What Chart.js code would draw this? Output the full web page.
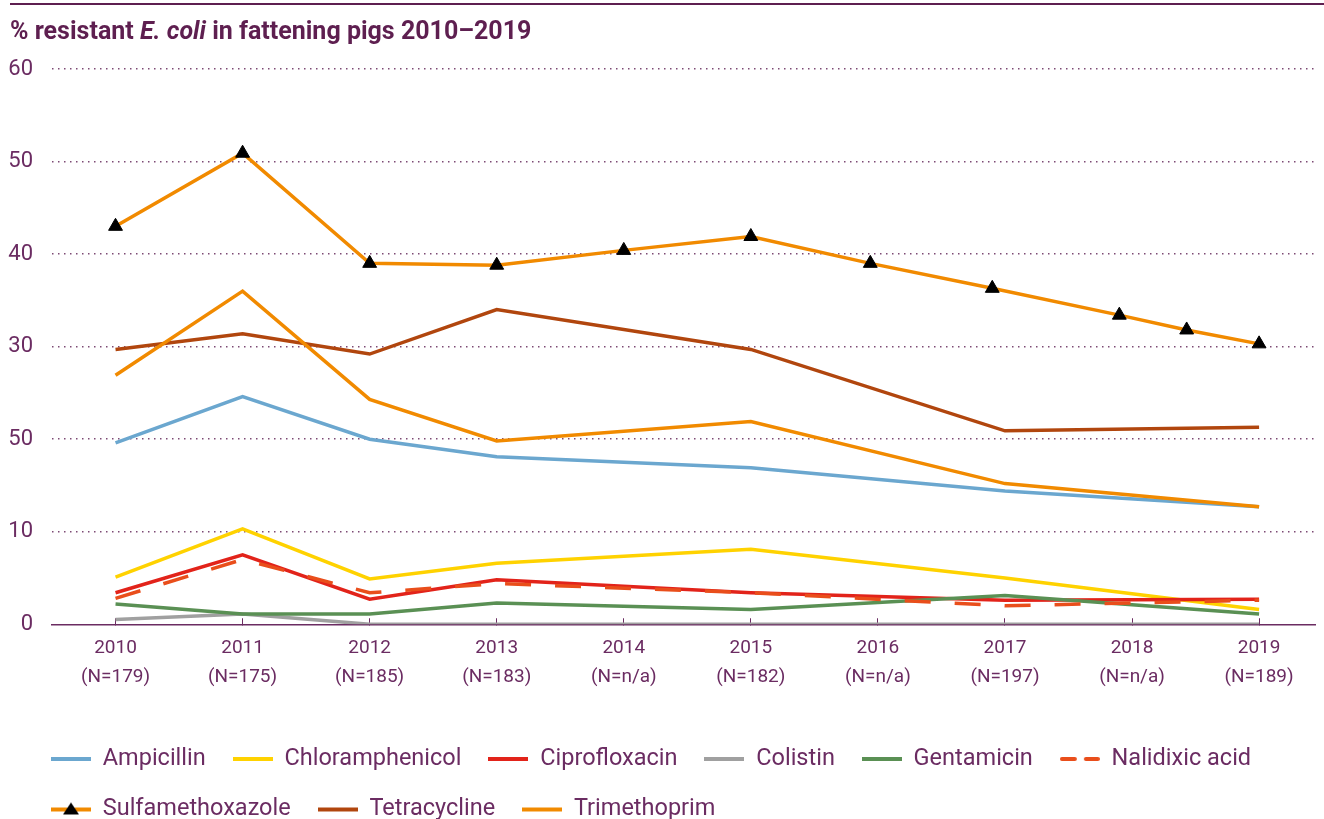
<!DOCTYPE html>
<html><head><meta charset="utf-8">
<script src="https://cdn.jsdelivr.net/npm/chart.js@4.4.1/dist/chart.umd.min.js"></script>
<style>
html,body{margin:0;padding:0;background:#fff;overflow:hidden;width:1324px;height:819px;}
#wrap{position:absolute;left:0;top:0;width:1324px;height:832px;}
#rule{position:absolute;left:10px;right:0;top:3px;height:2px;background:#5E1F50;}
#title{position:absolute;left:10px;top:17px;line-height:28px;font-family:Roboto,sans-serif;font-weight:bold;font-size:25px;color:#5E1F50;white-space:nowrap;}
</style></head><body>
<div id="wrap"><canvas id="c" width="1324" height="832"></canvas></div>
<div id="rule"></div>
<div id="title">% resistant <i>E. coli</i> in fattening pigs 2010–2019</div>
<script>
// ---- data ----
const years = [2010, 2011, 2012, 2013, 2014, 2015, 2016, 2017, 2018, 2019];
const nLabels = ['(N=179)', '(N=175)', '(N=185)', '(N=183)', '(N=n/a)', '(N=182)', '(N=n/a)', '(N=197)', '(N=n/a)', '(N=189)'];
const yTickLabels = ['0', '10', '50', '30', '40', '50', '60'];

const ampicillin      = [19.6, 24.6, 20.0, 18.1, null, 16.9, null, 14.4, null, 12.7];
const chloramphenicol = [5.1, 10.3, 4.9, 6.6, null, 8.1, null, 5.0, null, 1.6];
const ciprofloxacin   = [3.4, 7.5, 2.7, 4.8, null, 3.4, null, 2.6, null, 2.7];
const colistin        = [0.5, 1.1, 0, 0, null, 0, null, 0, null, 0];
const gentamicin      = [2.2, 1.1, 1.1, 2.3, null, 1.6, null, 3.1, null, 1.1];
const nalidixicAcid   = [2.8, 7.0, 3.4, 4.4, null, 3.4, null, 2.0, null, 2.6];
const tetracycline    = [29.7, 31.4, 29.2, 34.0, null, 29.7, null, 20.9, null, 21.3];
const trimethoprim    = [26.9, 36.0, 24.3, 19.8, null, 21.9, null, 15.2, null, 12.7];
// Sulfamethoxazole markers as placed in the picture
const sulfaYears       = [2010, 2011, 2012, 2013, 2014, 2015, 2015.94, 2016.9, 2017.9, 2018.43, 2019];
const sulfamethoxazole = [43.0, 50.9, 39.0, 38.8, 40.4, 41.9, 39.0, 36.3, 33.4, 31.8, 30.3];

const seriesNames  = ['Ampicillin', 'Chloramphenicol', 'Ciprofloxacin', 'Colistin', 'Gentamicin', 'Nalidixic acid', 'Sulfamethoxazole', 'Tetracycline', 'Trimethoprim'];
const seriesColors = ['#6BA7CF', '#FFD200', '#E2231A', '#A0A0A0', '#5A9054', '#E94E1B', '#F18A00', '#B1460E', '#F18A00'];
const seriesValues = [ampicillin, chloramphenicol, ciprofloxacin, colistin, gentamicin, nalidixicAcid, sulfamethoxazole, tetracycline, trimethoprim];

// ---- styling ----
const purple = '#6B2C62';
const gridPurple = '#7D4A74';
const n = seriesNames.length;

function makeIcon(i) {
  const c = document.createElement('canvas');
  c.width = 40; c.height = 16;
  const g = c.getContext('2d');
  g.strokeStyle = seriesColors[i];
  g.lineWidth = 4;
  g.beginPath();
  if (seriesNames[i] === 'Nalidixic acid') {
    g.lineCap = 'round';
    g.moveTo(2, 8); g.lineTo(15, 8); g.moveTo(26, 8); g.lineTo(38, 8);
  } else {
    g.moveTo(0, 8); g.lineTo(40, 8);
  }
  g.stroke();
  if (seriesNames[i] === 'Sulfamethoxazole') {
    g.fillStyle = '#000';
    g.beginPath(); g.moveTo(20, 1); g.lineTo(28, 13); g.lineTo(12, 13); g.closePath(); g.fill();
  }
  return c;
}

const datasets = seriesNames.map((name, i) => {
  const isSulfa = name === 'Sulfamethoxazole';
  const xs = isSulfa ? sulfaYears : years;
  return {
    label: name,
    data: xs.map((x, j) => ({x: x, y: seriesValues[i][j]})),
    borderColor: seriesColors[i],
    backgroundColor: seriesColors[i],
    borderWidth: 3.5,
    borderDash: name === 'Nalidixic acid' ? [26, 24] : [],
    pointRadius: isSulfa ? 8 : 0,
    pointStyle: 'triangle',
    pointBackgroundColor: '#000',
    pointBorderColor: '#000',
    pointBorderWidth: 1,
    spanGaps: true,
    tension: 0,
    fill: false,
    order: n - i
  };
});

const legendShift = {
  id: 'legendShift',
  afterLayout(chart) { if (chart.legend) { chart.legend.left = 24; } }
};

new Chart(document.getElementById('c'), {
  type: 'line',
  data: { datasets },
  plugins: [legendShift],
  options: {
    responsive: false,
    animation: false,
    events: [],
    layout: { padding: { top: 69, left: 0, right: 0, bottom: 0.75 } },
    plugins: {
      tooltip: { enabled: false },
      title: { display: false },
      legend: {
        position: 'bottom',
        align: 'start',
        labels: {
          usePointStyle: true,
          pointStyleWidth: 40,
          padding: 27,
          color: purple,
          font: { family: 'Roboto', size: 23.5 },
          generateLabels: () => seriesNames.map((name, i) => ({
            text: name,
            pointStyle: makeIcon(i),
            fillStyle: seriesColors[i],
            strokeStyle: seriesColors[i],
            lineWidth: 0,
            hidden: false,
            datasetIndex: i,
            fontColor: purple
          }))
        }
      }
    },
    scales: {
      x: {
        type: 'linear',
        min: 2009.5,
        max: 2019.44,
        afterBuildTicks: s => { s.ticks = years.map(v => ({ value: v })); },
        afterFit: s => { s.height = 96; },
        ticks: {
          autoSkip: false,
          maxRotation: 0,
          padding: 15,
          color: purple,
          font: { family: 'Roboto', size: 19, lineHeight: 29 / 19 },
          callback: v => { const i = years.indexOf(v); return i < 0 ? '' : [String(v), nLabels[i]]; }
        },
        grid: { drawOnChartArea: false, drawTicks: true, tickLength: -6, color: purple, lineWidth: 1 },
        border: { display: true, color: purple, width: 1.5 }
      },
      y: {
        min: 0,
        max: 60,
        afterFit: s => { s.width = 52; },
        ticks: {
          stepSize: 10,
          padding: 19,
          color: purple,
          font: { family: 'Roboto', size: 22 },
          callback: v => yTickLabels[Math.round(v / 10)]
        },
        grid: {
          drawTicks: false,
          lineWidth: 1.5,
          color: c => (c.tick && c.tick.value === 0) ? 'rgba(0,0,0,0)' : gridPurple
        },
        border: { display: false, dash: [1.5, 4.5] }
      }
    }
  }
});
</script>
</body></html>
